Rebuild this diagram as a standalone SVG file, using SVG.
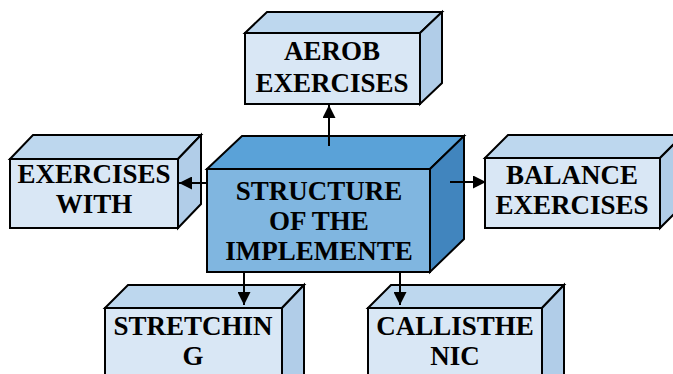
<svg xmlns="http://www.w3.org/2000/svg" width="673" height="374" viewBox="0 0 673 374">
<defs>
<style>
.s{stroke:#000;stroke-width:2;stroke-linejoin:miter}
.lf{fill:#D9E7F5}.lt{fill:#BDD7EE}.lr{fill:#B1CDE8}
.cf{fill:#80B6E0}.ct{fill:#5AA2D8}.cr{fill:#4185BE}
.t{font-family:"Liberation Serif","Times New Roman",serif;font-weight:bold;font-size:27px;text-anchor:middle;fill:#000}
.c{stroke:#000;stroke-width:2;fill:none}
</style>
<marker id="ah" viewBox="0 0 10 10" refX="10" refY="5" markerWidth="6.5" markerHeight="6.5" orient="auto" markerUnits="strokeWidth">
<path d="M0,0 L10,5 L0,10 z" fill="#000"/>
</marker>
</defs>
<rect width="673" height="374" fill="#fff"/>

<g id="aerob">
<polygon class="s lt" points="245,33 267,12 442,12 420,33"/>
<polygon class="s lr" points="420,33 442,12 442,83 420,104"/>
<rect class="s lf" x="245" y="33" width="175" height="71"/>
<text class="t" x="332" y="60">AEROB</text>
<text class="t" x="332" y="92">EXERCISES</text>
</g>

<g id="exercises-with">
<polygon class="s lt" points="10,159 33,135 201,135 178,159"/>
<polygon class="s lr" points="178,159 201,135 201,204 178,228"/>
<rect class="s lf" x="10" y="159" width="168" height="69"/>
<text class="t" x="94" y="183">EXERCISES</text>
<text class="t" x="94" y="213">WITH</text>
</g>

<g id="balance">
<polygon class="s lt" points="485,158 508,135 683,135 660,158"/>
<polygon class="s lr" points="660,158 683,135 683,205 660,228"/>
<rect class="s lf" x="485" y="158" width="175" height="70"/>
<text class="t" x="572" y="184">BALANCE</text>
<text class="t" x="572" y="214">EXERCISES</text>
</g>

<g id="stretching">
<polygon class="s lt" points="105,308 128,285 304,285 282,308"/>
<polygon class="s lr" points="282,308 304,285 304,380 282,403"/>
<rect class="s lf" x="105" y="308" width="177" height="95"/>
<text class="t" x="193" y="335">STRETCHIN</text>
<text class="t" x="193" y="365">G</text>
</g>

<g id="callisthenic">
<polygon class="s lt" points="368,308 391,285 564,285 542,308"/>
<polygon class="s lr" points="542,308 564,285 564,380 542,403"/>
<rect class="s lf" x="368" y="308" width="174" height="95"/>
<text class="t" x="455" y="335">CALLISTHE</text>
<text class="t" x="455" y="365">NIC</text>
</g>

<g id="structure">
<polygon class="s ct" points="207,169 242,136 464,136 430,169"/>
<polygon class="s cr" points="430,169 464,136 464,239 430,272"/>
<rect class="s cf" x="207" y="169" width="223" height="103"/>
<text class="t" x="319" y="200">STRUCTURE</text>
<text class="t" x="319" y="230">OF THE</text>
<text class="t" x="319" y="260">IMPLEMENTE</text>
</g>

<g id="connectors">
<line class="c" x1="329" y1="146" x2="329" y2="105" marker-end="url(#ah)"/>
<line class="c" x1="207" y1="183" x2="179" y2="183" marker-end="url(#ah)"/>
<line class="c" x1="450" y1="182" x2="486" y2="182" marker-end="url(#ah)"/>
<line class="c" x1="244" y1="272" x2="244" y2="305" marker-end="url(#ah)"/>
<line class="c" x1="400" y1="272" x2="400" y2="305" marker-end="url(#ah)"/>
</g>
</svg>
